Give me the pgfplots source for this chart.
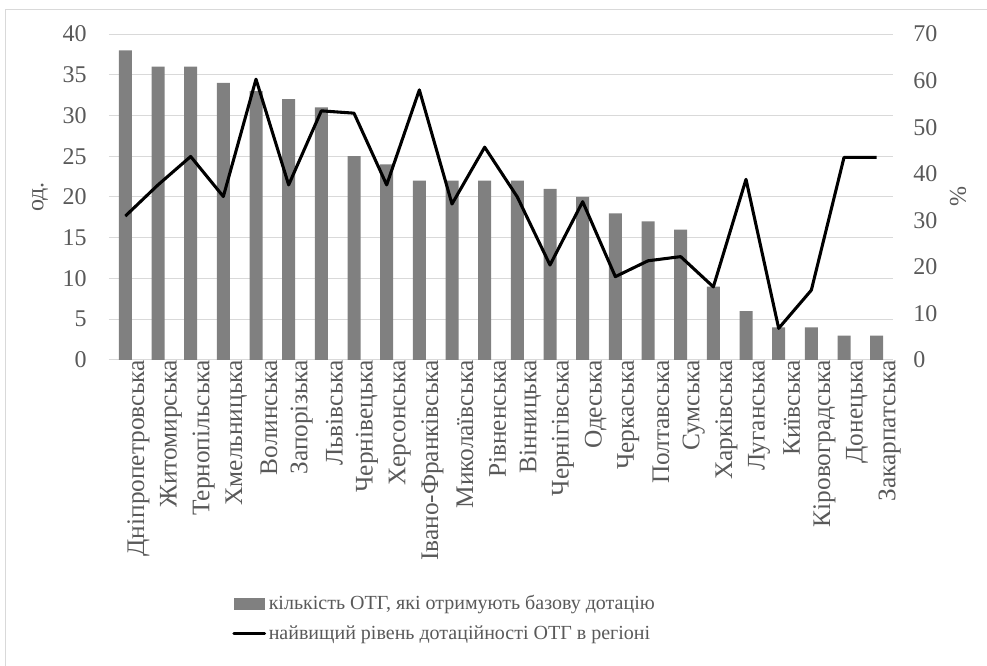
\documentclass[border=0pt]{standalone}
\usepackage{fontspec}
\setmainfont{Liberation Serif}
\usepackage{pgfplots}
\pgfplotsset{compat=1.18}
\definecolor{txt}{HTML}{595959}
\definecolor{barc}{HTML}{808080}
\definecolor{gridc}{HTML}{D9D9D9}
\begin{document}
\begin{tikzpicture}
% visible part of the chart frame (top and left edges)
\path[use as bounding box] (-81.75pt,-229.5pt) rectangle (658.5pt,270pt);
\draw[gridc, line width=0.75pt] (658.5pt,262.5pt) -- (-77.25pt,262.5pt) -- (-77.25pt,-229.5pt);
\pgfplotsset{
  base/.style={
    scale only axis, width=588pt, height=244.5pt,
    xmin=-0.5, xmax=23.5,
    axis line style={draw=none},
    major tick length=0pt,
    tick label style={font=\fontsize{18}{21}\selectfont, text=txt},
    label style={font=\fontsize{18}{21}\selectfont, text=txt},
    /pgf/number format/assume math mode=true,
  }
}
\begin{axis}[base,
  ymin=0, ymax=40, ytick={0,5,...,40},
  ymajorgrids, grid style={gridc, line width=0.75pt},
  xtick={0,...,23},
  xticklabels={Дніпропетровська,Житомирська,Тернопільська,Хмельницька,Волинська,Запорізька,Львівська,Чернівецька,Херсонська,Івано-Франківська,Миколаївська,Рівненська,Вінницька,Чернігівська,Одеська,Черкаська,Полтавська,Сумська,Харківська,Луганська,Київська,Кіровоградська,Донецька,Закарпатська},
  xticklabel style={rotate=90, anchor=east, inner sep=0pt, yshift=-9.75pt,
    font=\fontsize{19}{22}\selectfont},
  yticklabel style={anchor=east, inner sep=0pt, xshift=-16.5pt},
  ylabel={од.},
  ylabel style={at={(axis description cs:-0.088,0.5)}, anchor=center},
  ybar, bar width=9.75pt,
]
\addplot[fill=barc, draw=none] coordinates {
(0,38) (1,36) (2,36) (3,34) (4,33) (5,32) (6,31) (7,25) (8,24) (9,22) (10,22) (11,22)
(12,22) (13,21) (14,20) (15,18) (16,17) (17,16) (18,9) (19,6) (20,4) (21,4) (22,3) (23,3)};
\end{axis}
\begin{axis}[base,
  ymin=0, ymax=70, ytick={0,10,...,70},
  axis x line=none, axis y line*=right,
  yticklabel style={anchor=west, inner sep=0pt, xshift=15pt},
  ylabel={\%},
  ylabel style={at={(axis description cs:1.083,0.5)}, anchor=center},
  legend style={at={(axis description cs:0.157,-0.713)}, anchor=north west,
    draw=none, fill=none, font=\fontsize{15}{18}\selectfont, text=txt,
    row sep=6.5pt, cells={anchor=west}, inner sep=0pt},
  legend cell align=left,
]
\addlegendimage{legend image code/.code={\fill[barc] (0pt,-4.1pt) rectangle (23pt,4.1pt);}}
\addlegendentry{кількість ОТГ, які отримують базову дотацію}
\addplot[black, line width=2.3pt, line join=round,
  legend image code/.code={\draw[black, line width=2.3pt, line cap=round] (0pt,0pt) -- (23pt,0pt);}]
coordinates {
(0,30.9) (1,37.6) (2,43.7) (3,35.1) (4,60.3) (5,37.6) (6,53.5) (7,53.0) (8,37.6) (9,58.0)
(10,33.5) (11,45.7) (12,35.0) (13,20.4) (14,34.0) (15,17.9) (16,21.3) (17,22.2) (18,15.7)
(19,38.8) (20,6.8) (21,15.0) (22,43.5) (23,43.5)};
\addlegendentry{найвищий рівень дотаційності ОТГ в регіоні}
\end{axis}
\end{tikzpicture}
\end{document}
